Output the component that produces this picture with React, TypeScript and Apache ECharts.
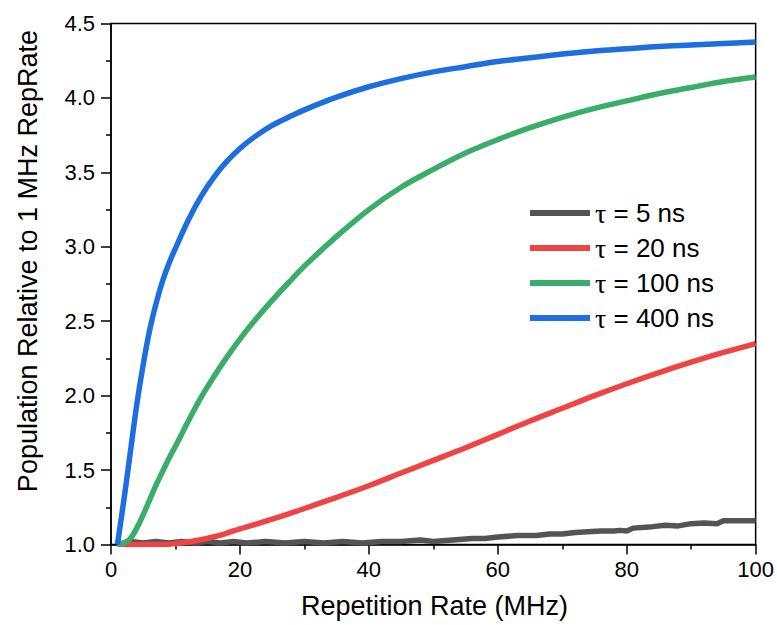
import React, { useEffect, useRef } from 'react';
import * as echarts from 'echarts';

// Repetition rate (MHz) sampling for the smooth curves
const repRate = [1, 2, 3, 4, 5, 6, 7, 8, 9, 10, 12, 14, 16, 18, 20, 22, 25, 28, 30, 35, 40, 45, 50, 55, 60, 65, 70, 75, 80, 85, 90, 95, 100];

const tau400 = [1.0, 1.3, 1.62, 1.94, 2.21, 2.44, 2.62, 2.77, 2.89, 2.99, 3.18, 3.34, 3.47, 3.575, 3.66, 3.73, 3.815, 3.88, 3.92, 4.005, 4.075, 4.13, 4.175, 4.21, 4.245, 4.27, 4.295, 4.315, 4.33, 4.345, 4.355, 4.365, 4.375];
const tau100 = [1.0, 1.01, 1.04, 1.11, 1.2, 1.3, 1.4, 1.49, 1.58, 1.66, 1.83, 1.99, 2.13, 2.26, 2.38, 2.49, 2.64, 2.78, 2.87, 3.07, 3.25, 3.4, 3.52, 3.63, 3.72, 3.8, 3.87, 3.93, 3.98, 4.03, 4.07, 4.11, 4.14];
const tau20 = [1.0, 1.0, 1.0, 1.0, 1.0, 1.0, 1.0, 1.0, 1.002, 1.006, 1.017, 1.032, 1.052, 1.077, 1.105, 1.13, 1.17, 1.212, 1.242, 1.317, 1.395, 1.48, 1.565, 1.65, 1.74, 1.83, 1.915, 2.0, 2.08, 2.155, 2.225, 2.29, 2.35];

// τ = 5 ns trace is noisy, read with its own sampling
const repRate5 = [1, 3, 5, 7, 9, 11, 13, 15, 17, 19, 21, 24, 27, 30, 33, 36, 39, 42, 45, 48, 50, 53, 56, 58, 60, 63, 66, 68, 70, 72, 74, 76, 78, 79, 80, 81, 84, 86, 88, 90, 92, 94, 95, 97, 100];
const tau5 = [1.0, 1.02, 1.01, 1.02, 1.01, 1.02, 1.01, 1.02, 1.01, 1.02, 1.01, 1.02, 1.01, 1.02, 1.01, 1.02, 1.01, 1.02, 1.02, 1.03, 1.02, 1.03, 1.04, 1.04, 1.05, 1.06, 1.06, 1.07, 1.07, 1.08, 1.085, 1.09, 1.09, 1.095, 1.09, 1.11, 1.12, 1.13, 1.125, 1.14, 1.145, 1.14, 1.16, 1.16, 1.16];

const seriesNames = ['τ = 5 ns', 'τ = 20 ns', 'τ = 100 ns', 'τ = 400 ns'];
const seriesColors = ['#545454', '#f04444', '#3aad6a', '#1d6fe0'];

const xTitle = 'Repetition Rate (MHz)';
const yTitle = 'Population Relative to 1 MHz RepRate';

const FONT = "'Liberation Sans', Arial, sans-serif";

function pairs(xs: number[], ys: number[]) {
  return xs.map((x, i) => [x, ys[i]]);
}

export default function App() {
  const ref = useRef<HTMLDivElement>(null);
  useEffect(() => {
    document.body.style.margin = '0';
    if (!ref.current) return;
    const chart = echarts.init(ref.current, undefined, { renderer: 'svg' });
    const dataSets = [
      pairs(repRate5, tau5),
      pairs(repRate, tau20),
      pairs(repRate, tau100),
      pairs(repRate, tau400),
    ];
    chart.setOption({
      animation: false,
      backgroundColor: '#ffffff',
      grid: {
        left: 111,
        top: 23.5,
        right: 20.5,
        bottom: 80.5,
        show: true,
        borderColor: '#000',
        borderWidth: 1.5,
        backgroundColor: 'transparent',
        containLabel: false,
      },
      xAxis: {
        type: 'value',
        min: 0,
        max: 100,
        interval: 20,
        axisLine: { show: true, onZero: false, lineStyle: { color: '#000', width: 1.5 } },
        axisTick: { show: true, inside: false, length: 10, lineStyle: { color: '#000', width: 1.5 } },
        minorTick: { show: true, splitNumber: 2, length: 5, lineStyle: { color: '#000', width: 1.5 } },
        splitLine: { show: false },
        axisLabel: { color: '#000', fontSize: 22, fontFamily: FONT, margin: 14 },
      },
      yAxis: {
        type: 'value',
        min: 1.0,
        max: 4.5,
        interval: 0.5,
        axisLine: { show: true, onZero: false, lineStyle: { color: '#000', width: 1.5 } },
        axisTick: { show: true, inside: false, length: 10, lineStyle: { color: '#000', width: 1.5 } },
        minorTick: { show: true, splitNumber: 2, length: 5, lineStyle: { color: '#000', width: 1.5 } },
        splitLine: { show: false },
        axisLabel: {
          color: '#000',
          fontSize: 22,
          fontFamily: FONT,
          margin: 16,
          formatter: (v: number) => v.toFixed(1),
        },
      },
      legend: {
        orient: 'vertical',
        left: 527,
        top: 199,
        padding: 0,
        itemWidth: 60,
        itemHeight: 26,
        itemGap: 7,
        data: seriesNames,
        lineStyle: { width: 6 },
        itemStyle: { opacity: 0 },
        formatter: (name: string) => '{tau|τ}{r|' + name.slice(1) + '}',
        textStyle: {
          color: '#000',
          fontSize: 26,
          fontFamily: FONT,
          rich: {
            tau: { fontFamily: "'Liberation Serif', serif", fontSize: 28, color: '#000', lineHeight: 26 },
            r: { fontFamily: FONT, fontSize: 26, color: '#000', lineHeight: 26 },
          },
        },
      },
      graphic: [
        {
          type: 'text',
          x: 434.5,
          y: 606,
          style: {
            text: xTitle,
            fontSize: 27,
            fontFamily: FONT,
            fill: '#000',
            textAlign: 'center',
            textVerticalAlign: 'middle',
          },
        },
        {
          type: 'text',
          x: 28,
          y: 261,
          rotation: Math.PI / 2,
          style: {
            text: yTitle,
            fontSize: 27,
            fontFamily: FONT,
            fill: '#000',
            textAlign: 'center',
            textVerticalAlign: 'middle',
          },
        },
      ],
      series: seriesNames.map((name, i) => ({
        name,
        type: 'line',
        data: dataSets[i],
        showSymbol: false,
        symbol: 'none',
        smooth: i === 0 ? false : 0.35,
        color: seriesColors[i],
        lineStyle: { color: seriesColors[i], width: 5.5 },
        z: 2 + i,
      })),
    });
    return () => {
      chart.dispose();
    };
  }, []);
  return <div ref={ref} style={{ width: 777, height: 625 }} />;
}
